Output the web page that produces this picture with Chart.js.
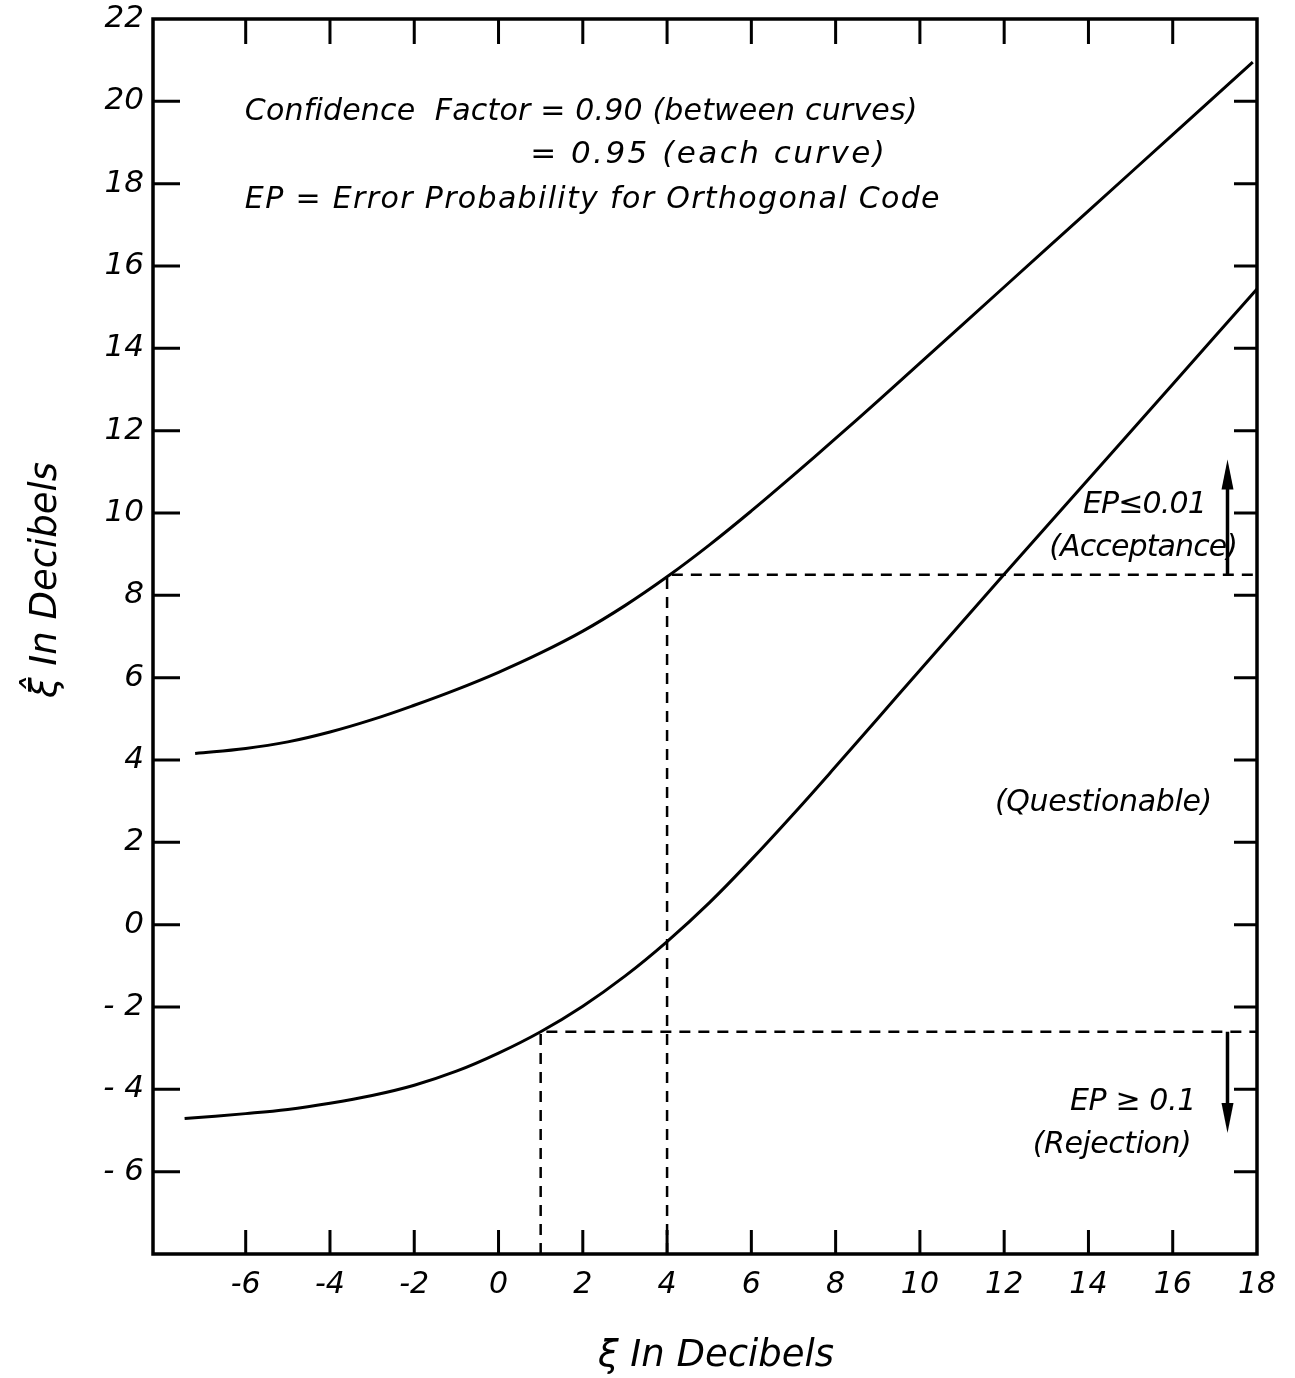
<!DOCTYPE html>
<html><head><meta charset="utf-8">
<script src="https://cdn.jsdelivr.net/npm/chart.js@4.4.1/dist/chart.umd.min.js"></script>
<style>html,body{margin:0;padding:0;background:#fff}canvas{display:block}</style>
</head><body>
<canvas id="c" width="1295" height="1378"></canvas>
<script>
// ---- data ----
const upperX = [-7.2, -6, -5, -4, -3, -2, -1, 0, 1, 2, 3, 4, 5, 6, 7, 8, 9, 10, 12, 14, 16, 17.9];
const upperY = [4.16, 4.28, 4.44, 4.68, 4.98, 5.33, 5.71, 6.13, 6.6, 7.13, 7.75, 8.45, 9.22, 10.05, 10.92, 11.81, 12.72, 13.64, 15.49, 17.34, 19.19, 20.95];
const lowerX = [-7.45, -6, -5, -4, -3, -2, -1, 0, 1, 2, 3, 4, 5, 6, 7, 8, 9, 10, 12, 14, 16, 18];
const lowerY = [-4.71, -4.59, -4.49, -4.34, -4.15, -3.9, -3.56, -3.12, -2.6, -1.98, -1.25, -0.41, 0.53, 1.58, 2.69, 3.84, 5.01, 6.18, 8.51, 10.82, 13.13, 15.44];
const xTickValues = [-6, -4, -2, 0, 2, 4, 6, 8, 10, 12, 14, 16, 18];
const yTickValues = [-6, -4, -2, 0, 2, 4, 6, 8, 10, 12, 14, 16, 18, 20, 22];
const acceptXi = 4, acceptLevel = 8.5;
const rejectXi = 1, rejectLevel = -2.6;
const arrowXi = 17.3;
const upArrowTip = 11.3;
const downArrowTip = -5.06;

const X_MIN = -8.2, X_MAX = 18, Y_MIN = -8, Y_MAX = 22;
const FONT = '"DejaVu Sans", "Liberation Sans", sans-serif';

const zip = (xs, ys) => xs.map((x, i) => ({x, y: ys[i]}));

const annotations = [
  {text: 'Confidence  Factor = 0.90 (between curves)', x0: -6.02, x1: 9.95, y: 19.74, size: 30},
  {text: '= 0.95 (each curve)', x0: 0.75, x1: 9.17, y: 18.7, size: 31},
  {text: 'EP = Error Probability for Orthogonal Code', x0: -6.02, x1: 10.47, y: 17.6, size: 30},
  {text: 'EP\u22640.01', x0: 13.87, x1: 16.81, y: 10.2, size: 30},
  {text: '(Acceptance)', x0: 13.07, x1: 17.55, y: 9.15, size: 30},
  {text: '(Questionable)', x0: 11.78, x1: 16.94, y: 2.96, size: 30},
  {text: 'EP \u2265 0.1', x0: 13.56, x1: 16.56, y: -4.31, size: 30},
  {text: '(Rejection)', x0: 12.68, x1: 16.45, y: -5.35, size: 30}
];

const framePlugin = {
  id: 'frame',
  afterDatasetsDraw(chart) {
    const ctx = chart.ctx, a = chart.chartArea;
    const xs = chart.scales.x, ys = chart.scales.y;
    ctx.save();
    ctx.strokeStyle = '#000';
    ctx.fillStyle = '#000';
    // arrowheads
    const drawHead = (xv, tipV, dir) => {
      const px = xs.getPixelForValue(xv), py = ys.getPixelForValue(tipV);
      ctx.beginPath();
      ctx.moveTo(px, py);
      ctx.lineTo(px - 6, py - dir * 30);
      ctx.lineTo(px + 6, py - dir * 30);
      ctx.closePath();
      ctx.fill();
    };
    drawHead(arrowXi, upArrowTip, -1);
    drawHead(arrowXi, downArrowTip, 1);
    // frame
    ctx.lineWidth = 3.5;
    ctx.strokeRect(a.left, a.top, a.right - a.left, a.bottom - a.top);
    // inward ticks
    ctx.lineWidth = 3;
    ctx.beginPath();
    xTickValues.forEach(v => {
      if (v >= X_MAX) return;
      const p = xs.getPixelForValue(v);
      ctx.moveTo(p, a.bottom); ctx.lineTo(p, a.bottom - 24);
      ctx.moveTo(p, a.top); ctx.lineTo(p, a.top + 25);
    });
    yTickValues.forEach(v => {
      if (v >= Y_MAX) return;
      const p = ys.getPixelForValue(v);
      ctx.moveTo(a.left, p); ctx.lineTo(a.left + 27, p);
      ctx.moveTo(a.right, p); ctx.lineTo(a.right - 23, p);
    });
    ctx.stroke();
    // annotation texts
    ctx.textBaseline = 'middle';
    ctx.textAlign = 'left';
    annotations.forEach(t => {
      ctx.font = 'italic ' + t.size + 'px ' + FONT;
      const x0 = xs.getPixelForValue(t.x0), x1 = xs.getPixelForValue(t.x1);
      const y = ys.getPixelForValue(t.y);
      ctx.letterSpacing = '0px';
      const w = ctx.measureText(t.text).width;
      const n = [...t.text].length;
      const ls = (x1 - x0 - w) / Math.max(1, n - 1);
      ctx.letterSpacing = ls.toFixed(2) + 'px';
      ctx.fillText(t.text, x0, y);
    });
    ctx.letterSpacing = '0px';
    // axis titles
    ctx.font = 'italic 37px ' + FONT;
    ctx.textAlign = 'center';
    ctx.fillText('\u03BE In Decibels', 716, 1356);
    ctx.translate(46, 580);
    ctx.rotate(-Math.PI / 2);
    ctx.fillText('\u03BE\u0302 In Decibels', 0, 0);
    ctx.restore();
  }
};

const lineDs = (data, extra) => Object.assign({
  data, borderColor: '#000', borderWidth: 3, pointRadius: 0, fill: false, tension: 0
}, extra);

new Chart(document.getElementById('c'), {
  type: 'line',
  data: {
    datasets: [
      lineDs(zip(upperX, upperY), {tension: 0.4}),
      lineDs(zip(lowerX, lowerY), {tension: 0.4}),
      lineDs([{x: acceptXi, y: Y_MIN}, {x: acceptXi, y: acceptLevel}, {x: X_MAX, y: acceptLevel}], {borderWidth: 2.5, borderDash: [11, 8]}),
      lineDs([{x: rejectXi, y: Y_MIN}, {x: rejectXi, y: rejectLevel}, {x: X_MAX, y: rejectLevel}], {borderWidth: 2.5, borderDash: [11, 8]}),
      lineDs([{x: arrowXi, y: acceptLevel}, {x: arrowXi, y: upArrowTip - 0.6}], {borderWidth: 3.5}),
      lineDs([{x: arrowXi, y: rejectLevel}, {x: arrowXi, y: downArrowTip + 0.6}], {borderWidth: 3.5})
    ]
  },
  options: {
    responsive: false,
    animation: false,
    events: [],
    layout: {padding: {top: 19, right: 38, left: 0, bottom: 0}},
    plugins: {legend: {display: false}, tooltip: {enabled: false}},
    scales: {
      x: {
        type: 'linear', min: X_MIN, max: X_MAX,
        grid: {display: false, drawTicks: false},
        border: {display: false},
        afterBuildTicks: s => { s.ticks = xTickValues.map(v => ({value: v})); },
        afterFit: s => { s.height = 124; s.paddingLeft = 0; s.paddingRight = 0; },
        ticks: {
          color: '#000', padding: 13, maxRotation: 0, autoSkip: false,
          font: {family: FONT, size: 30, style: 'italic'},
          callback: v => String(v)
        }
      },
      y: {
        type: 'linear', min: Y_MIN, max: Y_MAX,
        grid: {display: false, drawTicks: false},
        border: {display: false},
        afterBuildTicks: s => { s.ticks = yTickValues.map(v => ({value: v})); },
        afterFit: s => { s.width = 153; s.paddingTop = 0; s.paddingBottom = 0; },
        ticks: {
          color: '#000', padding: 9, autoSkip: false,
          font: {family: FONT, size: 31, style: 'italic'},
          callback: v => v < 0 ? '- ' + Math.abs(v) : String(v)
        }
      }
    }
  },
  plugins: [framePlugin]
});
</script>
</body></html>
